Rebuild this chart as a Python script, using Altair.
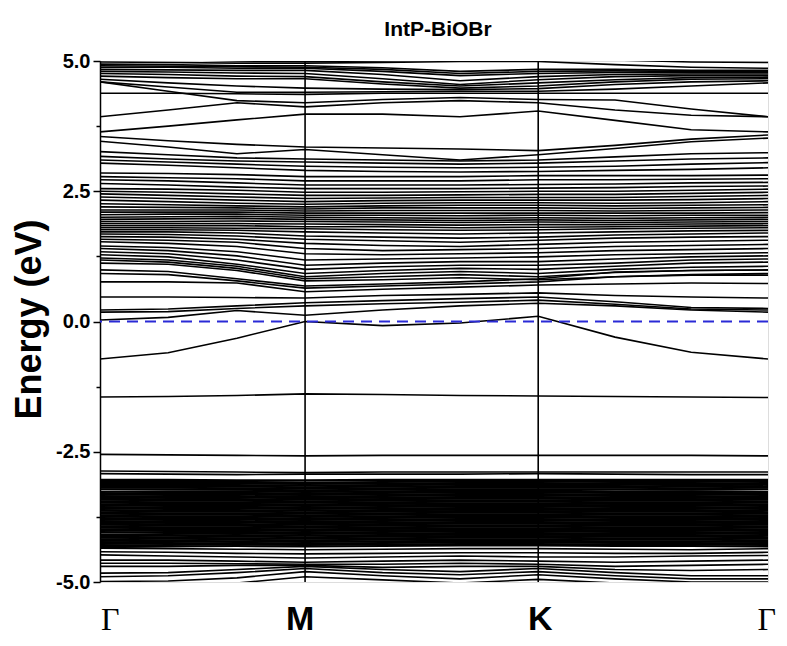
import altair as alt
import pandas as pd

# k-path sampling (fraction of total path length): Γ, ., ., M, ., ., K, ., ., Γ
K_PATH = [0.0, 0.102, 0.205, 0.307, 0.423, 0.539, 0.656, 0.771, 0.885, 1.0]
SYM_K = [0.307, 0.656]
LABEL_K = [0.0, 0.307, 0.656, 1.0]
LABEL_TXT = ["Γ", "M", "K", "Γ"]
Y_TICKS = [-5.0, -3.75, -2.5, -1.25, 0.0, 1.25, 2.5, 3.75, 5.0]
FERMI = [0.0]
TITLE = "IntP-BiOBr"

UPPER_BANDS = [
    [5.05, 5.03, 5.00, 4.99, 5.00, 5.02, 5.05, 5.02, 4.98, 4.97],
    [4.98, 4.97, 4.96, 4.96, 4.97, 4.99, 4.99, 4.93, 4.88, 4.86],
    [4.94, 4.93, 4.91, 4.91, 4.87, 4.80, 4.84, 4.84, 4.82, 4.82],
    [4.91, 4.90, 4.89, 4.88, 4.84, 4.76, 4.80, 4.81, 4.80, 4.80],
    [4.88, 4.88, 4.86, 4.86, 4.80, 4.72, 4.76, 4.78, 4.78, 4.78],
    [4.84, 4.83, 4.82, 4.82, 4.74, 4.62, 4.70, 4.74, 4.75, 4.75],
    [4.80, 4.79, 4.77, 4.76, 4.66, 4.55, 4.64, 4.70, 4.72, 4.72],
    [4.76, 4.74, 4.71, 4.70, 4.60, 4.52, 4.58, 4.64, 4.68, 4.69],
    [4.71, 4.68, 4.66, 4.66, 4.56, 4.48, 4.52, 4.60, 4.65, 4.66],
    [4.65, 4.58, 4.52, 4.48, 4.46, 4.45, 4.47, 4.55, 4.60, 4.62],
    [4.60, 4.50, 4.40, 4.40, 4.41, 4.42, 4.42, 4.46, 4.52, 4.58],
    [4.38, 4.38, 4.37, 4.36, 4.38, 4.38, 4.38, 4.38, 4.38, 4.38],
    [4.60, 4.42, 4.24, 4.20, 4.26, 4.30, 4.26, 4.25, 4.08, 3.93],
    [3.93, 4.06, 4.20, 4.12, 4.20, 4.24, 4.20, 4.06, 3.96, 3.93],
    [3.64, 3.75, 3.87, 3.98, 3.98, 3.93, 4.04, 3.86, 3.68, 3.64],
    [3.55, 3.47, 3.40, 3.35, 3.33, 3.31, 3.28, 3.38, 3.50, 3.58],
    [3.46, 3.35, 3.22, 3.30, 3.20, 3.10, 3.20, 3.32, 3.45, 3.52],
]

MIDDLE_BANDS = [
    [1.12, 1.10, 0.98, 0.78, 0.80, 0.84, 0.80, 0.86, 0.90, 0.92],
    [1.18, 1.14, 1.02, 0.82, 0.86, 0.90, 0.86, 0.94, 0.98, 0.99],
    [1.22, 1.18, 1.06, 0.86, 0.92, 0.96, 0.92, 1.00, 1.04, 1.06],
    [1.28, 1.24, 1.10, 0.92, 0.98, 1.02, 1.00, 1.06, 1.12, 1.14],
    [1.34, 1.30, 1.18, 1.00, 1.05, 1.08, 1.08, 1.12, 1.18, 1.20],
    [1.40, 1.36, 1.26, 1.08, 1.12, 1.15, 1.15, 1.20, 1.24, 1.26],
    [1.45, 1.42, 1.34, 1.18, 1.20, 1.22, 1.24, 1.28, 1.30, 1.32],
    [1.53, 1.50, 1.44, 1.30, 1.28, 1.30, 1.32, 1.36, 1.38, 1.40],
    [1.58, 1.56, 1.52, 1.40, 1.36, 1.38, 1.40, 1.44, 1.46, 1.48],
    [1.63, 1.62, 1.58, 1.50, 1.46, 1.44, 1.48, 1.52, 1.54, 1.56],
    [1.68, 1.67, 1.64, 1.58, 1.55, 1.52, 1.56, 1.60, 1.62, 1.63],
    [1.72, 1.72, 1.70, 1.64, 1.62, 1.60, 1.62, 1.66, 1.68, 1.70],
    [1.76, 1.76, 1.75, 1.72, 1.70, 1.68, 1.70, 1.72, 1.74, 1.75],
    [1.80, 1.80, 1.79, 1.78, 1.76, 1.75, 1.76, 1.78, 1.79, 1.80],
    [1.84, 1.84, 1.84, 1.82, 1.82, 1.80, 1.81, 1.82, 1.83, 1.84],
    [1.88, 1.88, 1.88, 1.87, 1.86, 1.85, 1.86, 1.86, 1.87, 1.88],
    [1.92, 1.92, 1.93, 1.92, 1.91, 1.90, 1.91, 1.90, 1.91, 1.92],
    [1.96, 1.97, 1.98, 1.96, 1.95, 1.94, 1.95, 1.94, 1.95, 1.96],
    [2.00, 2.01, 2.02, 2.00, 1.99, 1.98, 1.99, 1.98, 1.99, 2.00],
    [2.05, 2.06, 2.06, 2.04, 2.04, 2.03, 2.04, 2.03, 2.04, 2.04],
    [2.10, 2.10, 2.10, 2.08, 2.08, 2.08, 2.08, 2.08, 2.08, 2.09],
    [2.14, 2.14, 2.14, 2.12, 2.13, 2.13, 2.13, 2.12, 2.13, 2.14],
    [2.20, 2.19, 2.18, 2.16, 2.18, 2.18, 2.18, 2.17, 2.18, 2.19],
    [2.26, 2.24, 2.22, 2.20, 2.22, 2.23, 2.23, 2.22, 2.23, 2.24],
    [2.33, 2.30, 2.27, 2.25, 2.27, 2.28, 2.28, 2.27, 2.28, 2.30],
    [2.39, 2.36, 2.33, 2.30, 2.32, 2.33, 2.33, 2.33, 2.34, 2.36],
    [2.45, 2.42, 2.39, 2.36, 2.37, 2.38, 2.38, 2.38, 2.40, 2.42],
    [2.50, 2.48, 2.45, 2.42, 2.42, 2.43, 2.44, 2.44, 2.46, 2.48],
    [2.55, 2.54, 2.52, 2.48, 2.48, 2.49, 2.50, 2.50, 2.52, 2.54],
    [2.65, 2.62, 2.58, 2.55, 2.55, 2.55, 2.56, 2.57, 2.59, 2.60],
    [2.72, 2.70, 2.66, 2.62, 2.62, 2.62, 2.63, 2.64, 2.66, 2.67],
    [2.78, 2.76, 2.74, 2.70, 2.70, 2.70, 2.72, 2.72, 2.73, 2.74],
    [2.85, 2.84, 2.82, 2.78, 2.78, 2.78, 2.80, 2.80, 2.80, 2.81],
    [3.04, 3.00, 2.95, 2.90, 2.88, 2.87, 2.88, 2.90, 2.92, 2.95],
    [3.10, 3.06, 3.02, 2.98, 2.96, 2.95, 2.96, 2.98, 3.02, 3.05],
    [3.17, 3.12, 3.08, 3.06, 3.04, 3.02, 3.04, 3.08, 3.12, 3.14],
    [3.26, 3.20, 3.14, 3.12, 3.10, 3.08, 3.10, 3.16, 3.22, 3.24],
]

LOW_CB_BANDS = [
    [0.03, 0.08, 0.21, 0.12, 0.22, 0.30, 0.35, 0.30, 0.22, 0.18],
    [0.18, 0.19, 0.25, 0.30, 0.34, 0.37, 0.41, 0.33, 0.24, 0.22],
    [0.22, 0.24, 0.30, 0.36, 0.40, 0.44, 0.47, 0.38, 0.27, 0.25],
    [0.47, 0.47, 0.46, 0.45, 0.50, 0.52, 0.55, 0.50, 0.47, 0.45],
    [0.76, 0.76, 0.74, 0.57, 0.62, 0.66, 0.70, 0.72, 0.74, 0.73],
    [0.92, 0.90, 0.78, 0.64, 0.68, 0.72, 0.76, 0.86, 0.89, 0.89],
    [0.99, 0.96, 0.82, 0.68, 0.72, 0.76, 0.82, 0.95, 0.98, 0.99],
]

GAP_VB_BANDS = [
    [-0.72, -0.60, -0.32, 0.00, -0.08, -0.03, 0.10, -0.30, -0.59, -0.72],
    [-1.45, -1.44, -1.42, -1.39, -1.40, -1.42, -1.43, -1.44, -1.45, -1.46],
    [-2.55, -2.56, -2.57, -2.58, -2.57, -2.57, -2.57, -2.57, -2.57, -2.58],
    [-2.87, -2.88, -2.89, -2.90, -2.89, -2.89, -2.89, -2.89, -2.89, -2.89],
    [-2.92, -2.93, -2.94, -2.93, -2.93, -2.93, -2.92, -2.93, -2.94, -2.94],
]

VB_BLOCK = [
    [-3.04, -3.04, -3.05, -3.05, -3.04, -3.04, -3.04, -3.04, -3.04, -3.04],
    [-3.07, -3.08, -3.08, -3.09, -3.08, -3.07, -3.07, -3.08, -3.08, -3.07],
    [-3.10, -3.10, -3.11, -3.12, -3.11, -3.10, -3.10, -3.11, -3.11, -3.10],
    [-3.13, -3.14, -3.14, -3.15, -3.14, -3.13, -3.13, -3.13, -3.14, -3.13],
    [-3.16, -3.16, -3.17, -3.18, -3.17, -3.16, -3.16, -3.16, -3.17, -3.16],
    [-3.19, -3.19, -3.20, -3.21, -3.20, -3.19, -3.19, -3.19, -3.20, -3.19],
    [-3.22, -3.22, -3.23, -3.24, -3.23, -3.22, -3.22, -3.22, -3.23, -3.22],
    [-3.27, -3.26, -3.26, -3.27, -3.26, -3.25, -3.25, -3.26, -3.26, -3.27],
    [-3.30, -3.29, -3.29, -3.30, -3.29, -3.28, -3.28, -3.29, -3.29, -3.30],
    [-3.33, -3.32, -3.32, -3.33, -3.32, -3.31, -3.31, -3.32, -3.32, -3.33],
    [-3.36, -3.35, -3.35, -3.36, -3.35, -3.34, -3.34, -3.35, -3.35, -3.36],
    [-3.39, -3.38, -3.38, -3.39, -3.38, -3.37, -3.37, -3.38, -3.38, -3.39],
    [-3.42, -3.41, -3.41, -3.42, -3.41, -3.40, -3.40, -3.41, -3.41, -3.42],
    [-3.45, -3.44, -3.44, -3.45, -3.44, -3.43, -3.43, -3.44, -3.44, -3.45],
    [-3.48, -3.47, -3.47, -3.48, -3.47, -3.46, -3.46, -3.47, -3.47, -3.48],
    [-3.51, -3.50, -3.50, -3.51, -3.50, -3.49, -3.49, -3.50, -3.50, -3.51],
    [-3.54, -3.53, -3.53, -3.54, -3.53, -3.52, -3.52, -3.53, -3.53, -3.54],
    [-3.57, -3.56, -3.56, -3.57, -3.56, -3.55, -3.55, -3.56, -3.56, -3.57],
    [-3.60, -3.59, -3.59, -3.60, -3.59, -3.58, -3.58, -3.59, -3.59, -3.60],
    [-3.63, -3.62, -3.62, -3.63, -3.62, -3.61, -3.61, -3.62, -3.62, -3.63],
    [-3.66, -3.65, -3.65, -3.66, -3.65, -3.64, -3.64, -3.65, -3.65, -3.66],
    [-3.69, -3.68, -3.68, -3.69, -3.68, -3.67, -3.67, -3.68, -3.68, -3.69],
    [-3.72, -3.71, -3.71, -3.72, -3.71, -3.70, -3.70, -3.71, -3.71, -3.72],
    [-3.75, -3.74, -3.74, -3.75, -3.74, -3.73, -3.73, -3.74, -3.74, -3.75],
    [-3.78, -3.77, -3.77, -3.78, -3.77, -3.76, -3.76, -3.77, -3.77, -3.78],
    [-3.81, -3.80, -3.80, -3.81, -3.80, -3.79, -3.79, -3.80, -3.80, -3.81],
    [-3.84, -3.83, -3.83, -3.84, -3.83, -3.82, -3.82, -3.83, -3.83, -3.84],
    [-3.87, -3.86, -3.86, -3.87, -3.86, -3.85, -3.85, -3.86, -3.86, -3.87],
    [-3.90, -3.89, -3.89, -3.90, -3.89, -3.88, -3.88, -3.89, -3.89, -3.90],
    [-3.93, -3.92, -3.92, -3.93, -3.92, -3.91, -3.91, -3.92, -3.92, -3.93],
    [-3.96, -3.95, -3.95, -3.96, -3.95, -3.94, -3.94, -3.95, -3.95, -3.96],
    [-3.99, -3.98, -3.98, -3.99, -3.98, -3.97, -3.97, -3.98, -3.98, -3.99],
    [-4.02, -4.01, -4.01, -4.02, -4.01, -4.00, -4.00, -4.01, -4.01, -4.02],
    [-4.05, -4.04, -4.04, -4.05, -4.04, -4.03, -4.03, -4.04, -4.04, -4.05],
    [-4.09, -4.08, -4.07, -4.08, -4.07, -4.06, -4.06, -4.07, -4.07, -4.08],
    [-4.12, -4.11, -4.10, -4.11, -4.10, -4.09, -4.09, -4.10, -4.10, -4.11],
    [-4.15, -4.14, -4.13, -4.14, -4.13, -4.12, -4.12, -4.13, -4.13, -4.14],
    [-4.18, -4.17, -4.16, -4.17, -4.16, -4.15, -4.15, -4.16, -4.16, -4.17],
    [-4.21, -4.20, -4.19, -4.20, -4.19, -4.18, -4.18, -4.19, -4.19, -4.20],
    [-4.24, -4.23, -4.22, -4.23, -4.22, -4.21, -4.21, -4.22, -4.22, -4.23],
    [-4.27, -4.26, -4.25, -4.26, -4.25, -4.24, -4.24, -4.25, -4.25, -4.26],
    [-4.30, -4.29, -4.28, -4.29, -4.28, -4.27, -4.27, -4.28, -4.28, -4.29],
    [-4.33, -4.32, -4.31, -4.32, -4.31, -4.30, -4.30, -4.31, -4.31, -4.32],
]

DEEP_VB_BANDS = [
    [-4.35, -4.36, -4.37, -4.38, -4.37, -4.36, -4.36, -4.37, -4.38, -4.36],
    [-4.42, -4.43, -4.45, -4.46, -4.45, -4.44, -4.44, -4.45, -4.45, -4.43],
    [-4.48, -4.50, -4.52, -4.54, -4.52, -4.50, -4.52, -4.52, -4.50, -4.49],
    [-4.58, -4.58, -4.60, -4.62, -4.60, -4.58, -4.60, -4.62, -4.60, -4.58],
    [-4.64, -4.64, -4.65, -4.66, -4.66, -4.64, -4.66, -4.70, -4.68, -4.66],
    [-4.70, -4.70, -4.68, -4.68, -4.72, -4.70, -4.70, -4.76, -4.78, -4.76],
    [-4.83, -4.82, -4.76, -4.70, -4.76, -4.80, -4.74, -4.82, -4.88, -4.88],
    [-4.90, -4.88, -4.82, -4.74, -4.82, -4.86, -4.80, -4.88, -4.94, -4.94],
    [-4.99, -4.98, -4.92, -4.80, -4.88, -4.94, -4.86, -4.94, -5.00, -5.00],
    [-5.10, -5.08, -5.02, -4.90, -4.96, -5.02, -4.95, -5.02, -5.08, -5.10],
]


def to_frame(groups, start=0):
    rows = []
    bid = start
    for group in groups:
        for band in group:
            for k, e in zip(K_PATH, band):
                rows.append({"band": bid, "k": k, "E": e})
            bid += 1
    return pd.DataFrame(rows), bid


df_main, nxt = to_frame([UPPER_BANDS, MIDDLE_BANDS, LOW_CB_BANDS, GAP_VB_BANDS, DEEP_VB_BANDS])
df_block, _ = to_frame([VB_BLOCK], nxt)

W, H = 668, 521
xscale = alt.Scale(domain=[0, 1], nice=False, zero=False)
yscale = alt.Scale(domain=[-5, 5], nice=False, zero=False)

label_expr = ("abs(datum.value % 2.5) > 0.01 ? '' : "
              "(datum.value < 0 ? '-' + format(-datum.value, '.1f') : format(datum.value, '.1f'))")

yaxis = alt.Axis(
    values=Y_TICKS, labelExpr=label_expr, grid=False,
    labelFont="Liberation Sans", labelFontSize=20, labelFontWeight="bold",
    labelColor="black", labelPadding=3,
    tickColor="black", tickWidth=1.5,
    tickSize={"condition": {"test": "abs(datum.value % 2.5) > 0.01", "value": 4}, "value": 7},
    domainColor="black", domainWidth=1.5,
    title="Energy (eV)", titleFont="Liberation Sans", titleFontSize=36,
    titleFontWeight="bold", titleColor="black",
    titleX=-71, titleY=258, titleBaseline="middle", titleAngle=270,
)

bands = alt.Chart(df_main).mark_line(color="black", strokeWidth=1.6, clip=True).encode(
    x=alt.X("k:Q", scale=xscale, axis=None),
    y=alt.Y("E:Q", scale=yscale, axis=yaxis),
    detail="band:N",
)

block = alt.Chart(df_block).mark_line(color="black", strokeWidth=2.1, clip=True).encode(
    x=alt.X("k:Q", scale=xscale),
    y=alt.Y("E:Q", scale=yscale),
    detail="band:N",
)

sym_df = pd.DataFrame({"k": SYM_K})
vlines = alt.Chart(sym_df).mark_rule(color="black", strokeWidth=1.6).encode(
    x=alt.X("k:Q", scale=xscale)
)

fermi_df = pd.DataFrame({"E": FERMI})
fermi = alt.Chart(fermi_df).mark_rule(color="#2a2ad6", strokeWidth=2, strokeDash=[11, 7]).encode(
    y=alt.Y("E:Q", scale=yscale)
)

lab_df = pd.DataFrame({"k": LABEL_K, "t": LABEL_TXT})


def lab(i, font, weight, size, align, dx):
    return alt.Chart(lab_df.iloc[[i]]).mark_text(
        font=font, fontWeight=weight, fontSize=size, align=align, dx=dx,
        baseline="bottom", color="black"
    ).encode(x=alt.X("k:Q", scale=xscale), y=alt.value(H + 55), text="t:N")


labels = (lab(0, "Liberation Serif", "normal", 32, "left", 1)
          + lab(1, "Liberation Sans", "bold", 34, "center", -5)
          + lab(2, "Liberation Sans", "bold", 34, "center", 2)
          + lab(3, "Liberation Serif", "normal", 32, "right", 8))

title_df = pd.DataFrame({"t": [TITLE]})
title = alt.Chart(title_df).mark_text(
    font="Liberation Sans", fontWeight="bold", fontSize=21, color="black",
    align="center", baseline="alphabetic"
).encode(x=alt.value(W / 2 + 4), y=alt.value(-25), text="t:N")

chart = alt.layer(bands, block, vlines, fermi, labels, title).properties(
    width=W, height=H,
    autosize=alt.AutoSizeParams(type="none"),
    padding={"left": 92, "top": 53, "right": 11, "bottom": 56},
).configure_view(stroke="black", strokeWidth=1.5).configure(background="white")

chart.save("out.html", embed_options={"renderer": "svg", "actions": False})
